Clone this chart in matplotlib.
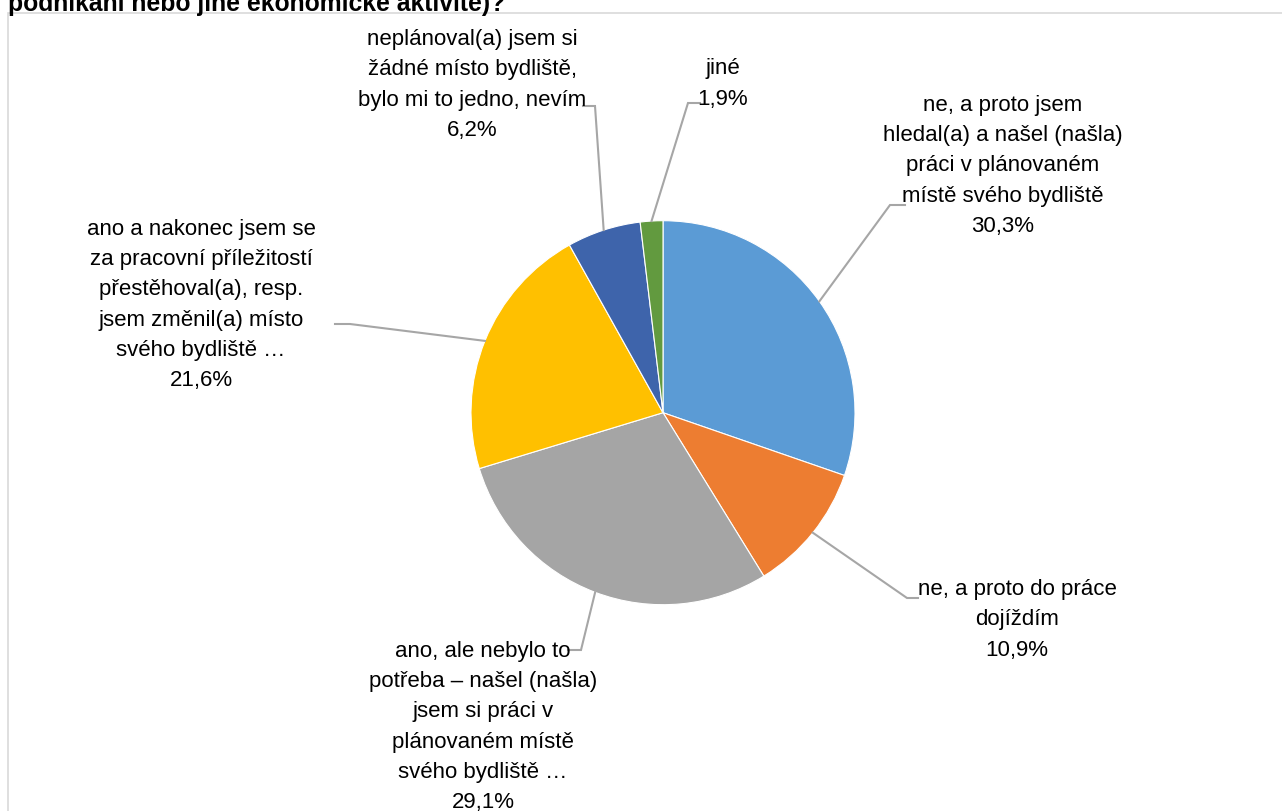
import numpy as np
import matplotlib
matplotlib.use("Agg")
import matplotlib.pyplot as plt
from matplotlib.patches import Rectangle

# ---- data ----
categories = [
    "ne, a proto jsem\nhledal(a) a našel (našla)\npráci v plánovaném\nmístě svého bydliště",
    "ne, a proto do práce\ndojíždím",
    "ano, ale nebylo to\npotřeba – našel (našla)\njsem si práci v\nplánovaném místě\nsvého bydliště …",
    "ano a nakonec jsem se\nza pracovní příležitostí\npřestěhoval(a), resp.\njsem změnil(a) místo\nsvého bydliště …",
    "neplánoval(a) jsem si\nžádné místo bydliště,\nbylo mi to jedno, nevím",
    "jiné",
]
values = [30.3, 10.9, 29.1, 21.6, 6.2, 1.9]
value_labels = ["30,3%", "10,9%", "29,1%", "21,6%", "6,2%", "1,9%"]
colors = ["#5B9BD5", "#ED7D31", "#A5A5A5", "#FFC000", "#3E64AB", "#629A3F"]
title = "podnikání nebo jiné ekonomické aktivitě)?"

# ---- layout (pixel coordinates, y from top) ----
W, H = 1282, 811
cx, cy, R = 663, 412.7, 192
label_pos = [(1003, 166), (1017, 620), (483, 727), (201, 305), (472, 85), (723, 84)]
bend_pts = [(890, 205), (907, 598), (581, 650), (350, 324), (595, 106), (688, 103)]
end_pts = [(905, 205), (918, 598), (568, 650), (335, 324), (583, 106), (700, 103)]

FONT = ["Liberation Sans Narrow", "Liberation Sans", "DejaVu Sans"]

fig = plt.figure(figsize=(W / 100, H / 100), dpi=100)
ax = fig.add_axes([0, 0, 1, 1])

def Y(y):
    return H - y

# border
ax.add_patch(Rectangle((8, Y(H + 20)), W + 20, (H + 20) - 13, fill=False,
                       edgecolor="#D9D9D9", linewidth=1.2, zorder=0))

wedges, _ = ax.pie(values, colors=colors, startangle=90, counterclock=False,
                   center=(cx, Y(cy)), radius=R,
                   wedgeprops=dict(edgecolor="white", linewidth=0.8))
ax.set_xlim(0, W)
ax.set_ylim(0, H)
ax.set_aspect("auto")
ax.axis("off")

for w, cat, vl, (tx, ty), (bx, by), (ex, ey) in zip(wedges, categories, value_labels,
                                                  label_pos, bend_pts, end_pts):
    ang = np.deg2rad((w.theta1 + w.theta2) / 2)
    px = cx + R * np.cos(ang)
    py = Y(cy) + R * np.sin(ang)
    ax.plot([px, bx, ex], [py, Y(by), Y(ey)], color="#A6A6A6", lw=1.5,
            solid_joinstyle="miter", zorder=3)
    ax.text(tx, Y(ty), cat + "\n" + vl, ha="center", va="center",
            multialignment="center", fontsize=16, family=FONT,
            linespacing=1.58, color="black")

fig.text(8 / W, 1 - 11 / H, title, ha="left", va="baseline", fontsize=17.8,
         fontweight="bold", family=FONT)

fig.savefig("out.png", dpi=100)
